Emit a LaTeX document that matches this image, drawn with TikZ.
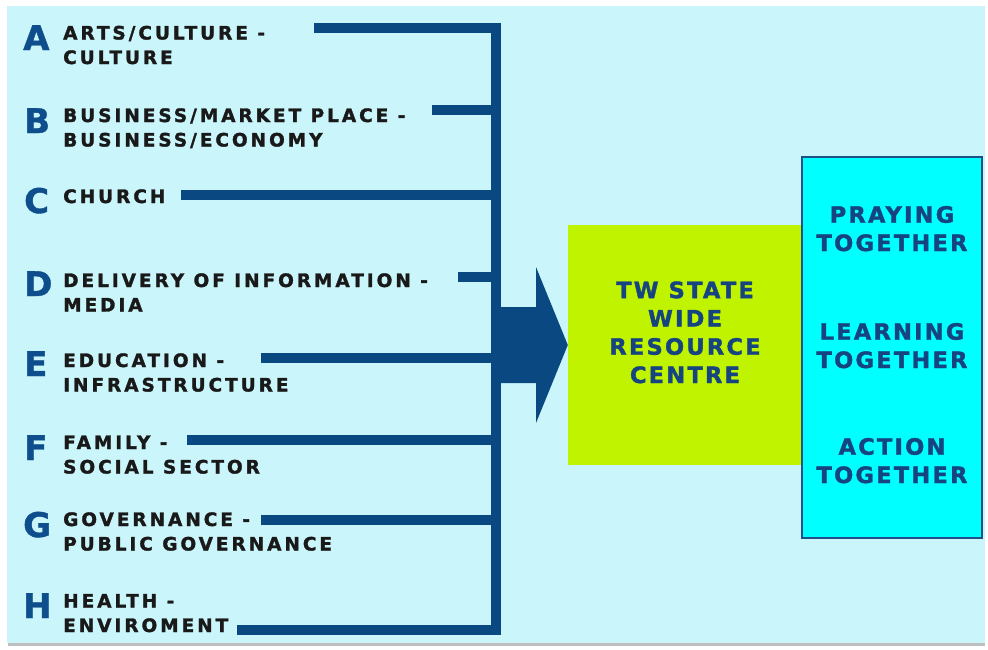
\documentclass[tikz,border=0pt]{standalone}
\usepackage{fontspec}
\newfontfamily\labfont[LetterSpace=16, FakeBold=1.6]{DejaVu Sans Bold}
\newfontfamily\bigfont[FakeBold=1.2]{DejaVu Sans Bold}
\newfontfamily\boxfont[LetterSpace=10, FakeBold=1.6]{DejaVu Sans Bold}
\definecolor{bgcol}{RGB}{202,245,250}
\definecolor{barcol}{RGB}{10,72,130}
\definecolor{lettercol}{RGB}{14,78,140}
\definecolor{textcol}{RGB}{22,68,128}
\definecolor{limecol}{RGB}{192,243,0}
\definecolor{cyancol}{RGB}{0,255,255}
\definecolor{bordercol}{RGB}{30,80,140}
\begin{document}
\begin{tikzpicture}[x=1pt,y=-1pt,
  letter/.style={anchor=base west, inner sep=0pt, text=lettercol,
    font=\bigfont\fontsize{34}{34}\selectfont},
  label/.style={anchor=base west, inner sep=0pt, align=left, text=black!90,
    font=\labfont\fontsize{18.5}{24.5}\selectfont},
  bar/.style={draw=barcol, line width=10pt},
  boxtext/.style={anchor=base, inner sep=0pt, align=center, text=textcol,
    font=\boxfont\fontsize{22.5}{28.3}\selectfont}]
\useasboundingbox (0,0) rectangle (988,649);
\fill[white] (0,0) rectangle (988,649);
\fill[black!25] (8,641) rectangle (985,646);
\fill[bgcol] (7,6) rectangle (985,643);
% big letters
\node[letter] (lA) at (23,50) {A};
\node[letter] (lB) at (24,133) {B};
\node[letter] (lC) at (24,213) {C};
\node[letter] (lD) at (24,296) {D};
\node[letter] (lE) at (24,376) {E};
\node[letter] (lF) at (24,460) {F};
\node[letter] (lG) at (23,537) {G};
\node[letter] (lH) at (23,618) {H};
% labels (anchor = baseline of last line)
\node[label] (tA) at (63,64) {ARTS/CULTURE -\\CULTURE};
\node[label] (tB) at (63,146.5) {BUSINESS/MARKET PLACE -\\BUSINESS/ECONOMY};
\node[label] (tC) at (63,203) {CHURCH};
\node[label] (tD) at (63,311.5) {DELIVERY OF INFORMATION -\\MEDIA};
\node[label] (tE) at (63,391.5) {EDUCATION -\\INFRASTRUCTURE};
\node[label] (tF) at (63,473.5) {FAMILY -\\SOCIAL SECTOR};
\node[label] (tG) at (63,550.5) {GOVERNANCE -\\PUBLIC GOVERNANCE};
\node[label] (tH) at (63,632) {HEALTH -\\ENVIROMENT};
% connector ends
\coordinate (sA) at (314,28);
\coordinate (sB) at (432,110);
\coordinate (sC) at (181,195);
\coordinate (sD) at (458,277);
\coordinate (sE) at (261,358);
\coordinate (sF) at (187,440);
\coordinate (sG) at (261,520);
\coordinate (sH) at (237,630);
\coordinate (bA) at (496,28);
\coordinate (bH) at (496,630);
% boxes
\node[fill=limecol, minimum width=234pt, minimum height=240pt, inner sep=0pt] (res) at (685,345) {};
\node[fill=cyancol, draw=bordercol, line width=1.2pt, minimum width=180pt, minimum height=381pt, inner sep=0pt] (tog) at (892,347.5) {};
% connectors
\draw[bar] (sA) -- (bA) -- (bH) -- (sH);
\foreach \s in {sB,sC,sD,sE,sF,sG} \draw[bar] (\s) -- (\s -| bA);
\fill[barcol] (501,307) -- (536,307) -- (536,267) -- (res.west) -- (536,423) -- (536,383) -- (501,383) -- cycle;
% box texts (anchor = baseline of last line)
\node[boxtext] (rt) at (685,383) {TW STATE\\WIDE\\RESOURCE\\CENTRE};
\node[boxtext] (p1) at (892,251) {PRAYING\\TOGETHER};
\node[boxtext] (p2) at (892,368) {LEARNING\\TOGETHER};
\node[boxtext] (p3) at (892,483) {ACTION\\TOGETHER};
\end{tikzpicture}
\end{document}
